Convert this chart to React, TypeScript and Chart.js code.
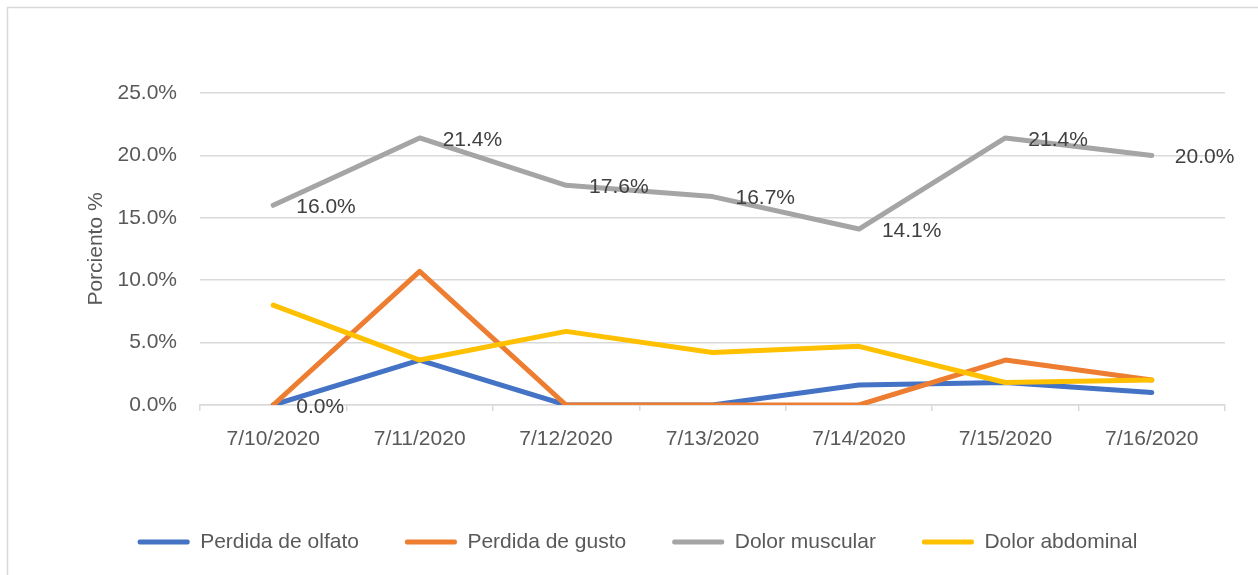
import React, { useEffect, useRef } from 'react';
import { Chart, registerables } from 'chart.js';

Chart.register(...registerables);

const categories = ['7/10/2020', '7/11/2020', '7/12/2020', '7/13/2020', '7/14/2020', '7/15/2020', '7/16/2020'];
const perdidaOlfato = [0, 3.6, 0, 0, 1.6, 1.8, 1.0];
const perdidaGusto = [0, 10.7, 0, 0, 0, 3.6, 2.0];
const dolorMuscular = [16.0, 21.4, 17.6, 16.7, 14.1, 21.4, 20.0];
const dolorAbdominal = [8.0, 3.6, 5.9, 4.2, 4.7, 1.8, 2.0];
const seriesNames = ['Perdida de olfato', 'Perdida de gusto', 'Dolor muscular', 'Dolor abdominal'];
const seriesValues = [perdidaOlfato, perdidaGusto, dolorMuscular, dolorAbdominal];
const seriesColors = ['#4472C4', '#ED7D31', '#A5A5A5', '#FFC000'];
const yMin = 0;
const yMax = 25;
const yStep = 5;
const yTitle = 'Porciento %';
// which points carry a data label: [seriesIndex, pointIndex]
const labeledPoints: [number, number][] = [
  [0, 0],
  [2, 0], [2, 1], [2, 2], [2, 3], [2, 4], [2, 5], [2, 6],
];

const FONT = "'Liberation Sans', Arial, sans-serif";

const fmt = (v: number) => v.toFixed(1) + '%';

const framePlugin = {
  id: 'frame',
  beforeDraw(chart: any) {
    const { ctx, width, height } = chart;
    ctx.save();
    ctx.fillStyle = '#ffffff';
    ctx.fillRect(0, 0, width, height);
    ctx.strokeStyle = '#d9d9d9';
    ctx.lineWidth = 1.5;
    ctx.strokeRect(7.5, 7.5, width + 10, height + 10);
    ctx.restore();
  },
};

const dataLabelPlugin = {
  id: 'dataLabels',
  afterDatasetsDraw(chart: any) {
    const { ctx } = chart;
    ctx.save();
    ctx.font = `21px ${FONT}`;
    ctx.fillStyle = '#404040';
    ctx.textAlign = 'left';
    ctx.textBaseline = 'middle';
    labeledPoints.forEach(([s, i]) => {
      const el = chart.getDatasetMeta(s).data[i];
      if (!el) return;
      const v = chart.data.datasets[s].data[i] as number;
      ctx.fillText(fmt(v), el.x + 23, el.y + 2);
    });
    ctx.restore();
  },
};

export default function App() {
  const canvasRef = useRef<HTMLCanvasElement | null>(null);

  useEffect(() => {
    if (!canvasRef.current) return;
    Chart.defaults.font.family = FONT;
    const chart = new Chart(canvasRef.current, {
      type: 'line',
      data: {
        labels: categories,
        datasets: seriesNames.map((name, i) => ({
          label: name,
          data: seriesValues[i],
          borderColor: seriesColors[i],
          backgroundColor: seriesColors[i],
          borderWidth: 5,
          borderCapStyle: 'round',
          borderJoinStyle: 'round',
          pointRadius: 0,
          pointHoverRadius: 0,
          tension: 0,
          fill: false,
          order: seriesNames.length - 1 - i,
        })),
      },
      options: {
        responsive: false,
        animation: false,
        devicePixelRatio: 1,
        layout: { padding: { left: 50, right: 33, top: 93, bottom: 12.5 } },
        plugins: {
          tooltip: { enabled: false },
          legend: {
            position: 'bottom',
            labels: {
              boxWidth: 52,
              boxHeight: 5,
              padding: 46,
              color: '#595959',
              font: { size: 21, family: FONT },
              useBorderRadius: true,
              borderRadius: 2,
              generateLabels: (c: any) =>
                c.data.datasets.map((ds: any, i: number) => ({
                  text: ds.label,
                  fillStyle: ds.borderColor,
                  strokeStyle: ds.borderColor,
                  lineWidth: 0,
                  hidden: false,
                  datasetIndex: i,
                  borderRadius: 2,
                  fontColor: '#595959',
                })),
            },
          },
        },
        scales: {
          x: {
            type: 'category',
            offset: true,
            grid: {
              display: true,
              drawOnChartArea: false,
              drawTicks: true,
              tickLength: 6,
              offset: true,
              color: '#d9d9d9',
              lineWidth: 1.5,
            },
            border: { display: true, color: '#d9d9d9', width: 1.5 },
            ticks: {
              color: '#595959',
              font: { size: 21, family: FONT },
              padding: 16,
              maxRotation: 0,
              autoSkip: false,
            },
            afterFit: (s: any) => {
              s.height = 80.5;
            },
          },
          y: {
            min: yMin,
            max: yMax,
            ticks: {
              stepSize: yStep,
              callback: (v: any) => fmt(Number(v)),
              color: '#595959',
              font: { size: 21, family: FONT },
              padding: 23,
            },
            grid: { color: '#d9d9d9', lineWidth: 1.5, drawTicks: false },
            border: { display: false },
            title: {
              display: true,
              text: yTitle,
              color: '#595959',
              font: { size: 21, family: FONT },
              padding: { top: 34, bottom: 0 },
            },
            afterFit: (s: any) => {
              s.width = 150;
            },
          },
        },
      } as any,
      plugins: [framePlugin, dataLabelPlugin],
    });
    return () => chart.destroy();
  }, []);

  return (
    <div style={{ position: 'absolute', left: 0, top: 0, width: 1258, height: 575 }}>
      <canvas ref={canvasRef} width={1258} height={575} style={{ display: 'block' }} />
    </div>
  );
}
